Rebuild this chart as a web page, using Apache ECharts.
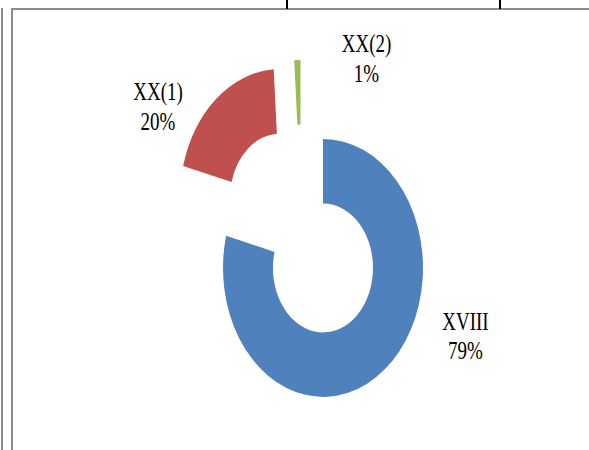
<!DOCTYPE html>
<html>
<head>
<meta charset="utf-8">
<script src="https://cdn.jsdelivr.net/npm/echarts@6/dist/echarts.min.js"></script>
<style>
  html, body { margin: 0; padding: 0; background: #fff; }
  #wrap { position: relative; width: 589px; height: 450px; overflow: hidden; }
  /* the original picture is stretched vertically, so the chart is too */
  #chart { position: absolute; left: 0; top: 0; width: 589px; height: 349px;
           transform: scaleY(1.2894); transform-origin: 0 0; }
  .ln { position: absolute; }
</style>
</head>
<body>
<div id="wrap">
  <div id="chart"></div>
  <!-- table borders of the page the chart was cut from -->
  <div class="ln" style="left:1px;top:8px;width:2px;height:442px;background:#8c8c8c"></div>
  <div class="ln" style="left:11px;top:8px;width:2px;height:442px;background:#8c8c8c"></div>
  <div class="ln" style="left:11px;top:8px;width:578px;height:2px;background:#8c8c8c"></div>
  <div class="ln" style="left:286px;top:0;width:2px;height:9px;background:#000"></div>
  <div class="ln" style="left:499px;top:0;width:2px;height:9px;background:#000"></div>
</div>
<script>
var categories = ['XVIII', 'XX(1)', 'XX(2)'];
var values = [79, 20, 1];
var colors = ['#4F81BD', '#C0504D', '#9BBB59'];

// each slice gets its own pie so it can be pulled out by its own amount
var centers = [[323, 207.8], [280, 153.6], [300.5, 146.6]];
var labelPos = [[465.5, 260.6], [158, 82.6], [366.5, 45.5]];

var myChart = echarts.init(document.getElementById('chart'), null, { renderer: 'svg' });

var series = categories.map(function (c, k) {
  return {
    type: 'pie',
    center: centers[k],
    radius: [50, 100],
    startAngle: 90,
    clockwise: true,
    silent: true,
    percentPrecision: 0,
    avoidLabelOverlap: false,
    emphasis: { disabled: true },
    labelLine: { show: false },
    label: {
      formatter: '{b}\n{d}%',
      fontFamily: 'Liberation Serif',
      fontSize: 19,
      lineHeight: 23,
      color: '#000'
    },
    labelLayout: function () {
      return { x: labelPos[k][0], y: labelPos[k][1], align: 'center', verticalAlign: 'middle' };
    },
    data: categories.map(function (name, i) {
      return {
        name: name,
        value: values[i],
        itemStyle: { color: i === k ? colors[i] : 'rgba(0,0,0,0)', borderWidth: 0 },
        label: { show: i === k }
      };
    })
  };
});

myChart.setOption({
  backgroundColor: '#fff',
  animation: false,
  series: series
});
</script>
</body>
</html>
